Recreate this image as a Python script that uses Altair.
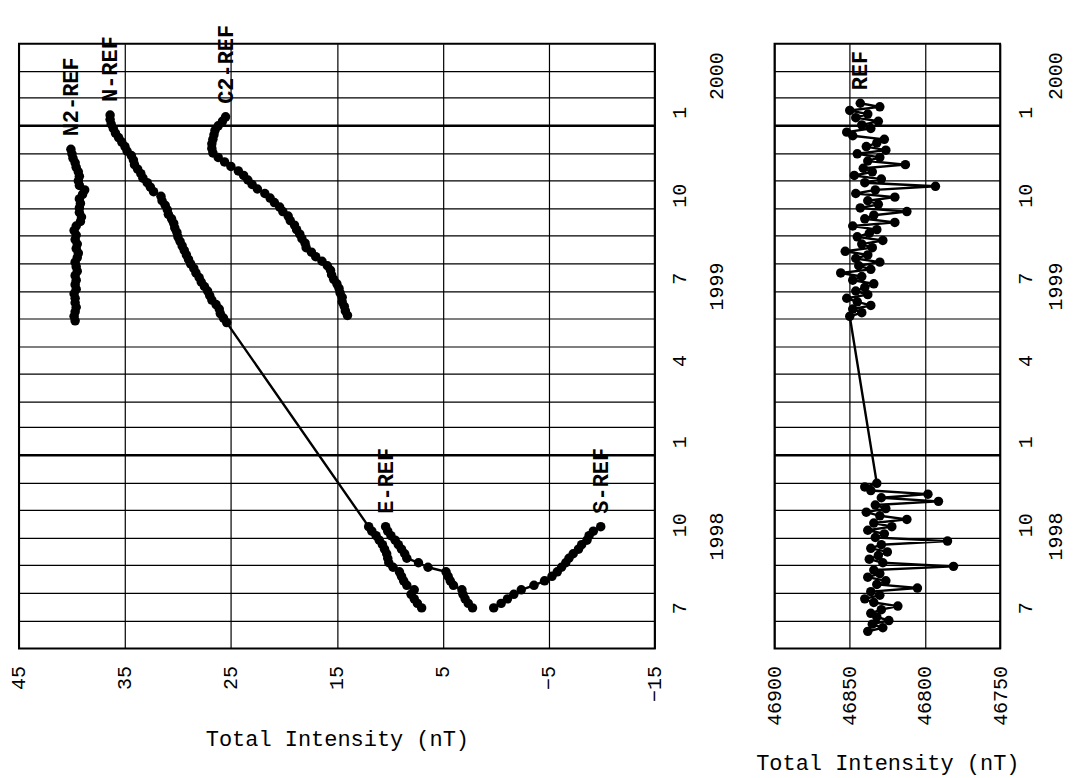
import altair as alt
import pandas as pd

# ---------------- data ----------------
# left panel: difference series, one value every 5 days
step_left = 5
n2_start = "1999-05-30"
n2_vals = [39.7, 39.8, 39.7, 39.6, 39.7, 39.7, 39.8, 39.6, 39.7, 39.6,
           39.7, 39.5, 39.6, 39.7, 39.5, 39.4, 39.6, 39.5, 39.7, 39.6,
           39.8, 39.6, 39.2, 39.1, 39.3, 39.3, 39.2, 39.3, 39.0, 38.8,
           39.3, 39.4, 39.3, 39.4, 39.6, 39.7, 39.9, 40.0, 40.1]
n_1998_start = "1998-07-16"
n_1998_vals = [7.0, 7.4, 7.7, 8.0, 7.7, 8.4, 8.7, 8.9, 9.1, 9.7,
               10.1, 10.2, 10.3, 10.5, 10.7, 11.0, 11.3, 11.7, 12.0]
n_1999_start = "1999-05-28"
n_1999_vals = [25.4, 25.7, 26.0, 26.1, 26.4, 26.8, 27.0, 27.2, 27.5, 27.8,
               28.0, 28.3, 28.5, 28.8, 29.0, 29.2, 29.4, 29.6, 29.8, 30.0,
               30.1, 30.3, 30.4, 30.6, 30.9, 31.0, 31.2, 31.5, 31.6, 32.3,
               32.6, 32.9, 33.3, 33.5, 33.8, 34.1, 34.2, 34.4, 34.8, 35.0,
               35.3, 35.6, 35.9, 36.1, 36.3, 36.4, 36.4]
c2_start = "1999-06-05"
c2_vals = [14.0, 14.2, 14.3, 14.5, 14.5, 14.7, 14.8, 15.0, 15.3, 15.5,
           15.6, 15.9, 16.4, 17.0, 17.4, 17.9, 18.0, 18.3, 18.5, 18.8,
           19.0, 19.4, 19.6, 20.1, 20.4, 20.9, 21.3, 21.8, 22.5, 23.0,
           23.4, 23.8, 24.3, 25.0, 25.6, 26.2, 26.7, 26.8, 26.8, 26.7,
           26.6, 26.5, 26.2, 25.8, 25.5]
e_start = "1998-07-16"
e_vals = [2.2, 2.6, 2.9, 3.1, 3.2, 4.0, 4.3, 4.5, 4.7, 6.4,
          7.3, 8.4, 8.6, 8.9, 9.2, 9.5, 9.9, 10.2, 10.4]
s_start = "1998-07-16"
s_vals = [0.2, -0.5, -1.1, -1.7, -2.4, -3.6, -4.6, -5.3, -5.8, -6.2,
          -6.6, -6.9, -7.3, -7.8, -8.1, -8.6, -8.8, -9.2, -9.9]

# right panel: reference station total intensity, one value every 4 days
step_right = 4
ref_1998_start = "1998-06-20"
ref_1998_vals = [46838, 46828, 46835, 46824, 46832, 46836, 46829, 46818, 46834, 46840,
                 46830, 46836, 46805, 46832, 46826, 46838, 46830, 46834, 46781, 46828,
                 46837, 46831, 46825, 46836, 46829, 46785, 46833, 46827, 46838, 46822,
                 46834, 46812, 46830, 46839, 46826, 46833, 46791, 46829, 46798, 46836,
                 46840, 46832]
ref_1999_start = "1999-06-04"
ref_1999_vals = [46850, 46842, 46848, 46836, 46845, 46852, 46838, 46846, 46840, 46834,
                 46848, 46842, 46856, 46836, 46844, 46830, 46846, 46838, 46853, 46835,
                 46842, 46828, 46845, 46837, 46832, 46848, 46820, 46840, 46834, 46812,
                 46843, 46831, 46838, 46820, 46846, 46833, 46793, 46840, 46829, 46847,
                 46835, 46841, 46813, 46838, 46830, 46845, 46826, 46839, 46832, 46827,
                 46848, 46852, 46836, 46842, 46831, 46846, 46838, 46850, 46830, 46843]

left_ticks = [45, 35, 25, 15, 5, -5, -15]
right_ticks = [46900, 46850, 46800, 46750]
month_label_dates = [(1998, 7, 16), (1998, 10, 16), (1999, 1, 16), (1999, 4, 16),
                     (1999, 7, 16), (1999, 10, 16), (2000, 1, 16)]
year_labels = ["1998", "1999", "2000"]
year_label_dates = ["1998-10-03", "1999-07-07", "2000-02-25"]
year_starts = ["1999-01-01", "2000-01-01"]
month_grid_first, month_grid_last = "1998-07-01", "2000-03-01"
time_domain = [(1998, 6, 1), (2000, 4, 1)]

FONT = "Liberation Mono"
PLOT_H = 606
LEFT_W = 637
RIGHT_W = 226


def seg(name, start, vals, step):
    return pd.DataFrame({
        "date": pd.date_range(start, periods=len(vals), freq=f"{step}D"),
        "value": vals,
        "series": name,
    })


left_df = pd.concat([
    seg("N2-REF", n2_start, n2_vals, step_left),
    seg("N-REF", n_1998_start, n_1998_vals, step_left),
    seg("N-REF", n_1999_start, n_1999_vals, step_left),
    seg("C2-REF", c2_start, c2_vals, step_left),
    seg("E-REF", e_start, e_vals, step_left),
    seg("S-REF", s_start, s_vals, step_left),
], ignore_index=True)
right_df = pd.concat([
    seg("REF", ref_1998_start, ref_1998_vals, step_right),
    seg("REF", ref_1999_start, ref_1999_vals, step_right),
], ignore_index=True)


def last_points(df):
    return df.sort_values("date").groupby("series", as_index=False).last()


month_df = pd.DataFrame({"date": pd.date_range(month_grid_first, month_grid_last, freq="MS")})
year_df = pd.DataFrame({"date": pd.to_datetime(year_starts)})
year_lab_df = pd.DataFrame({"date": pd.to_datetime(year_label_dates), "label": year_labels})

yscale = alt.Scale(domain=[alt.DateTime(year=y, month=m, date=d) for y, m, d in time_domain], nice=False)
yaxis = alt.Axis(
    orient="right", title=None, grid=False, ticks=False, domain=False,
    values=[alt.DateTime(year=y, month=m, date=d) for y, m, d in month_label_dates],
    labelExpr="'' + (month(datum.value) + 1)",
    labelAngle=270, labelAlign="center", labelBaseline="top", labelPadding=15,
    labelFont=FONT, labelFontSize=20, labelColor="black",
    labelOverlap=False, labelFlush=False,
)


def xaxis(values, fmt):
    return alt.Axis(
        title="Total Intensity (nT)", values=values, format=fmt,
        grid=True, gridColor="black", gridOpacity=1, gridWidth=1.2,
        ticks=False, domain=False,
        labelAngle=270, labelAlign="right", labelBaseline="middle", labelPadding=17,
        labelFont=FONT, labelFontSize=20, labelColor="black",
        labelOverlap=False, labelFlush=False,
        titleFont=FONT, titleFontSize=22, titleFontWeight="normal", titleColor="black",
        titlePadding=27,
    )


def panel(df, xscale, xax, width, year_offset):
    x_enc = alt.X("value:Q", scale=xscale, axis=xax)
    y_enc = alt.Y("date:T", scale=yscale, axis=yaxis)
    grid = alt.Chart(month_df).mark_rule(color="black", strokeWidth=1.2).encode(y=y_enc)
    ygrid = alt.Chart(year_df).mark_rule(color="black", strokeWidth=2.6).encode(y=y_enc)
    line = alt.Chart(df).mark_line(
        color="black", strokeWidth=2.4,
        point=alt.OverlayMarkDef(filled=True, fill="black", color="black", size=90, opacity=1),
    ).encode(x=x_enc, y=y_enc, detail="series:N", order="date:T")
    labels = alt.Chart(last_points(df)).mark_text(
        angle=270, align="left", baseline="middle", dx=13,
        font=FONT, fontSize=22, fontWeight="bold", color="black",
    ).encode(x=x_enc, y=y_enc, text="series:N")
    years = alt.Chart(year_lab_df).mark_text(
        angle=270, align="center", baseline="middle",
        font=FONT, fontSize=20, color="black",
    ).encode(x=alt.value(width + year_offset), y=y_enc, text="label:N")
    return alt.layer(grid, ygrid, line, labels, years).properties(width=width, height=PLOT_H)


left = panel(left_df, alt.Scale(domain=[-15, 45], reverse=True, nice=False),
             xaxis(left_ticks, "d"), LEFT_W, 62)
right = panel(right_df, alt.Scale(domain=[46750, 46900], reverse=True, nice=False),
              xaxis(right_ticks, "d"), RIGHT_W, 56)

chart = alt.hconcat(left, right, spacing=120, bounds="flush").properties(
    padding={"left": 0, "top": 15, "right": 0, "bottom": 0},
    background="white",
).configure_view(stroke="black", strokeWidth=2)

chart.save("out.html", embed_options={"renderer": "svg", "actions": False})
